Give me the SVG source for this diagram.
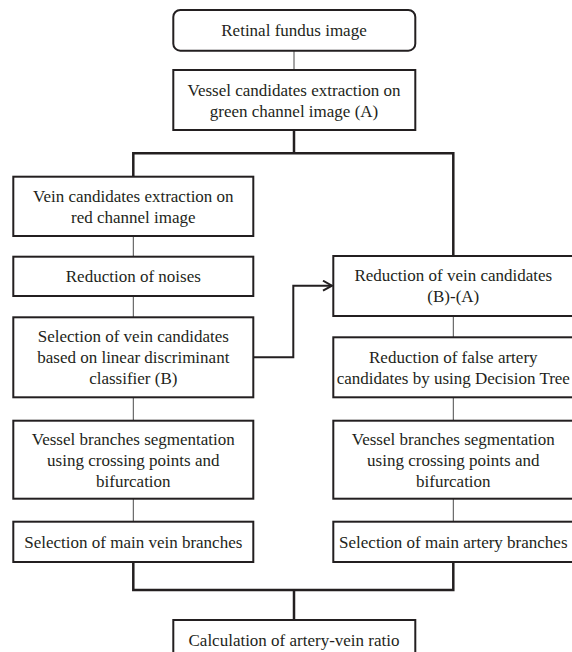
<svg xmlns="http://www.w3.org/2000/svg" width="572" height="652" viewBox="0 0 572 652">
<defs>
<style>
.box{fill:#fff;stroke:#231f20;stroke-width:2}
.thin{fill:none;stroke:#4a4a4a;stroke-width:1}
.bus{fill:none;stroke:#231f20;stroke-width:2.5}
.arr{fill:none;stroke:#231f20;stroke-width:2}
</style>
<marker id="ah" markerWidth="12" markerHeight="12" refX="10" refY="6" orient="auto" markerUnits="userSpaceOnUse">
<path d="M1,1 L10,6 L1,11" fill="none" stroke="#231f20" stroke-width="2"/>
</marker>
</defs>
<rect width="572" height="652" fill="#fff"/>
<g id="connectors">
<line class="thin" x1="294" y1="50.7" x2="294" y2="70"/>
<path class="bus" d="M294,130 V153.3 M133.3,176.7 V153.3 H453.3 V256"/>
<line class="thin" x1="133.3" y1="236" x2="133.3" y2="256.7"/>
<line class="thin" x1="133.3" y1="296" x2="133.3" y2="317.3"/>
<line class="thin" x1="133.3" y1="397.3" x2="133.3" y2="420.7"/>
<line class="thin" x1="133.3" y1="498.7" x2="133.3" y2="521.7"/>
<line class="thin" x1="453.3" y1="316" x2="453.3" y2="337.3"/>
<line class="thin" x1="453.3" y1="397.3" x2="453.3" y2="420.7"/>
<line class="thin" x1="453.3" y1="498.7" x2="453.3" y2="521.7"/>
<path class="arr" d="M253.3,357.3 H293.3 V285.7 H332" marker-end="url(#ah)"/>
<path class="bus" d="M133.3,562 V590 H453.3 V562 M294,590 V620"/>
</g>
<g font-family="Liberation Serif" font-size="17" text-anchor="middle" fill="#231f20">
<g id="n1"><rect class="box" x="173.3" y="10" width="242" height="40.7" rx="7"/><text x="294" y="36">Retinal fundus image</text></g>
<g id="n2"><rect class="box" x="173.3" y="70" width="242" height="60"/><text x="294" y="95.5">Vessel candidates extraction on</text><text x="294" y="116.5">green channel image (A)</text></g>
<g id="n3"><rect class="box" x="13.3" y="176.7" width="240" height="59.3"/><text x="133.3" y="202">Vein candidates extraction on</text><text x="133.3" y="223">red channel image</text></g>
<g id="n4"><rect class="box" x="13.3" y="256.7" width="240" height="39.3"/><text x="133.3" y="282">Reduction of noises</text></g>
<g id="n5"><rect class="box" x="13.3" y="317.3" width="240" height="80"/><text x="133.3" y="342.3">Selection of vein candidates</text><text x="133.3" y="363.3">based on linear discriminant</text><text x="133.3" y="384.3">classifier (B)</text></g>
<g id="n6"><rect class="box" x="13.3" y="420.7" width="240" height="78"/><text x="133.3" y="444.8">Vessel branches segmentation</text><text x="133.3" y="465.8">using crossing points and</text><text x="133.3" y="486.8">bifurcation</text></g>
<g id="n7"><rect class="box" x="13.3" y="521.7" width="240" height="40.3"/><text x="133.3" y="547.5">Selection of main vein branches</text></g>
<g id="n8"><rect class="box" x="333.3" y="256" width="240" height="60"/><text x="453.3" y="281">Reduction of vein candidates</text><text x="453.3" y="302">(B)-(A)</text></g>
<g id="n9"><rect class="box" x="333.3" y="337.3" width="240" height="60"/><text x="453.3" y="362.5">Reduction of false artery</text><text x="453.3" y="383.5">candidates by using Decision Tree</text></g>
<g id="n10"><rect class="box" x="333.3" y="420.7" width="240" height="78"/><text x="453.3" y="444.8">Vessel branches segmentation</text><text x="453.3" y="465.8">using crossing points and</text><text x="453.3" y="486.8">bifurcation</text></g>
<g id="n11"><rect class="box" x="333.3" y="521.7" width="240" height="40.3"/><text x="453.3" y="547.5">Selection of main artery branches</text></g>
<g id="n12"><rect class="box" x="173.3" y="620" width="242" height="40"/><text x="294" y="646">Calculation of artery-vein ratio</text></g>
</g>
</svg>
